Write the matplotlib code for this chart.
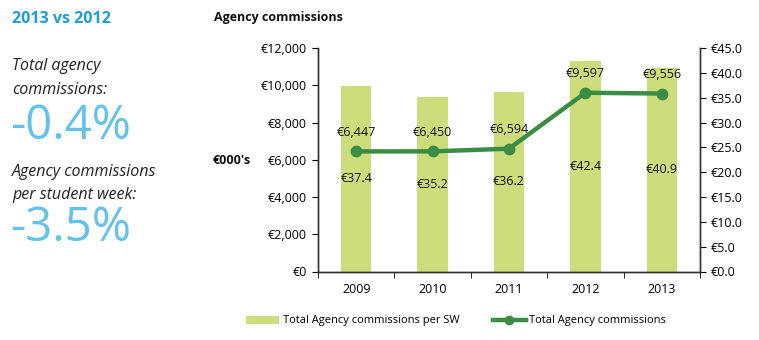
import matplotlib
matplotlib.use("Agg")
import matplotlib.pyplot as plt
from matplotlib.lines import Line2D
from matplotlib.patches import Patch

plt.rcParams['font.family'] = ['Open Sans', 'DejaVu Sans']

years = ["2009", "2010", "2011", "2012", "2013"]
per_sw = [37.4, 35.2, 36.2, 42.4, 40.9]
total = [6447, 6450, 6594, 9597, 9556]
left_ticks = [0, 2000, 4000, 6000, 8000, 10000, 12000]
right_ticks = [0, 5, 10, 15, 20, 25, 30, 35, 40, 45]

bar_color = "#cedd7b"
line_color = "#3b8c44"
blue_dark = "#1a9fd3"
blue_light = "#62c3ea"

W, H = 759, 340
fig = plt.figure(figsize=(W / 100, H / 100), dpi=100)

def fx(px):
    return px / W

def fy(py):
    return 1 - py / H

# Left panel texts
fig.text(fx(12), fy(19), "2013 vs 2012", color=blue_dark, fontsize=11.5, fontweight='bold', va='center', ha='left')
fig.text(fx(12), fy(66), "Total agency", color="#222222", fontsize=11.5, style='italic', va='center', ha='left')
fig.text(fx(12), fy(90), "commissions:", color="#222222", fontsize=11.5, style='italic', va='center', ha='left')
fig.text(fx(10), fy(126), "-0.4%", color=blue_light, fontsize=34, fontweight='normal', va='center', ha='left')
fig.text(fx(12), fy(172), "Agency commissions", color="#222222", fontsize=11.5, style='italic', va='center', ha='left')
fig.text(fx(12), fy(195), "per student week:", color="#222222", fontsize=11.5, style='italic', va='center', ha='left')
fig.text(fx(10), fy(228), "-3.5%", color=blue_light, fontsize=34, fontweight='normal', va='center', ha='left')

# Chart
fig.text(fx(214), fy(18), "Agency commissions", color="#111111", fontsize=9, fontweight='bold', va='center', ha='left')
fig.text(fx(213), fy(160), "€000's", color="#111111", fontsize=9, fontweight='bold', va='center', ha='left')

left, right, top, bottom = 318, 700, 48, 271.5
ax = fig.add_axes([fx(left), fy(bottom), (right - left) / W, (bottom - top) / H])
ax2 = ax.twinx()

x = list(range(len(years)))
ax2.bar(x, per_sw, width=0.4, color=bar_color, zorder=1)
ax.plot(x, total, color=line_color, lw=3.2, marker='o', ms=7.5, zorder=3)

ax.set_zorder(ax2.get_zorder() + 1)
ax.patch.set_visible(False)

ax.set_xlim(-0.5, 4.5)
ax.set_ylim(0, 12000)
ax2.set_ylim(0, 45)

ax.set_yticks(left_ticks)
ax.set_yticklabels([f"€{v:,}" for v in left_ticks])
ax2.set_yticks(right_ticks)
ax2.set_yticklabels([f"€{v:.1f}" for v in right_ticks])

ax.set_xticks(x)
ax.set_xticklabels(years)
ax.set_xticks([i - 0.5 for i in range(len(years) + 1)], minor=True)
ax.tick_params(axis='x', which='major', length=0, pad=8, labelsize=9)
ax.tick_params(axis='x', which='minor', length=4, direction='out')
ax.tick_params(axis='y', length=4, direction='out', labelsize=9, pad=4)
ax2.tick_params(axis='y', length=4, direction='out', labelsize=9, pad=4)

for a in (ax, ax2):
    a.spines['top'].set_visible(False)
    for s in a.spines.values():
        s.set_color("#333333")
        s.set_linewidth(1)

for xi, v in zip(x, total):
    ax.annotate(f"€{v:,}", (xi, v), xytext=(0, 9), textcoords='offset points',
                ha='center', va='bottom', fontsize=9, color="#111111")
for xi, v in zip(x, per_sw):
    ax2.text(xi, v / 2, f"€{v:.1f}", ha='center', va='center', fontsize=9, color="#111111")

handles = [Patch(facecolor=bar_color, edgecolor='none'),
           Line2D([0], [0], color=line_color, lw=3.2, marker='o', ms=6)]
fig.legend(handles, ["Total Agency commissions per SW", "Total Agency commissions"],
           loc='center', bbox_to_anchor=(fx(456), fy(321)), ncol=2, frameon=False,
           fontsize=8, handlelength=3, handletextpad=0.3, columnspacing=3)

fig.savefig("out.png", dpi=100)
